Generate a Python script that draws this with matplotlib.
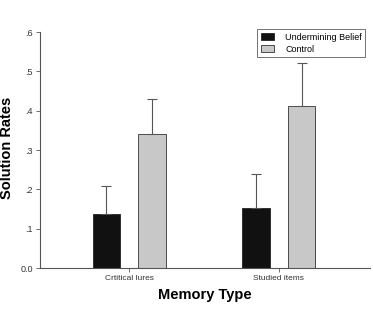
import matplotlib
matplotlib.use("Agg")
import matplotlib.pyplot as plt
import numpy as np

plt.rcParams['font.family'] = ['Liberation Sans', 'DejaVu Sans']

categories = ["Crtitical lures", "Studied items"]
series_names = ["Undermining Belief", "Control"]
undermining = [0.137, 0.152]
undermining_err = [0.071, 0.087]
control = [0.340, 0.412]
control_err = [0.089, 0.110]
ytick_vals = [0.0, 0.1, 0.2, 0.3, 0.4, 0.5, 0.6]
ytick_labels = ["0.0", ".1", ".2", ".3", ".4", ".5", ".6"]

fig = plt.figure(figsize=(3.73, 3.10), dpi=100)
ax = fig.add_axes([40 / 373, 42 / 310, 330 / 373, 236 / 310])

x = np.arange(len(categories))
w = 0.185
off = 0.153
err_kw = dict(ecolor="#555555", elinewidth=0.8, capsize=3.5, capthick=0.8)

ax.bar(x - off, undermining, w, color="#111111", edgecolor="#222222", linewidth=0.6,
       yerr=[np.zeros(2), undermining_err], error_kw=err_kw, label=series_names[0])
ax.bar(x + off, control, w, color="#c8c8c8", edgecolor="#333333", linewidth=0.6,
       yerr=[np.zeros(2), control_err], error_kw=err_kw, label=series_names[1])

ax.set_xlim(-0.597, 1.61)
ax.set_ylim(0, 0.6)
ax.set_xticks(x)
ax.set_xticklabels(categories, fontsize=6, color="#333333")
ax.set_yticks(ytick_vals)
ax.set_yticklabels(ytick_labels, fontsize=6.5, color="#333333")
ax.tick_params(axis="both", length=3, width=0.6, color="#555555", pad=2)

for s in ["top", "right"]:
    ax.spines[s].set_visible(False)
for s in ["left", "bottom"]:
    ax.spines[s].set_color("#555555")
    ax.spines[s].set_linewidth(0.8)

ax.set_ylabel("Solution Rates", fontsize=10.5, fontweight="bold")
ax.yaxis.set_label_coords(-0.078, 0.51)
ax.set_xlabel("Memory Type", fontsize=10.5, fontweight="bold", labelpad=4)

leg = ax.legend(loc="upper right", bbox_to_anchor=(1.0, 1.03), fontsize=6.5,
                frameon=True, fancybox=False, edgecolor="#333333",
                handlelength=1.5, handleheight=0.8, handletextpad=1.2,
                borderpad=0.4, labelspacing=0.3)
leg.get_frame().set_linewidth(0.6)

fig.savefig("out.png", dpi=100)
